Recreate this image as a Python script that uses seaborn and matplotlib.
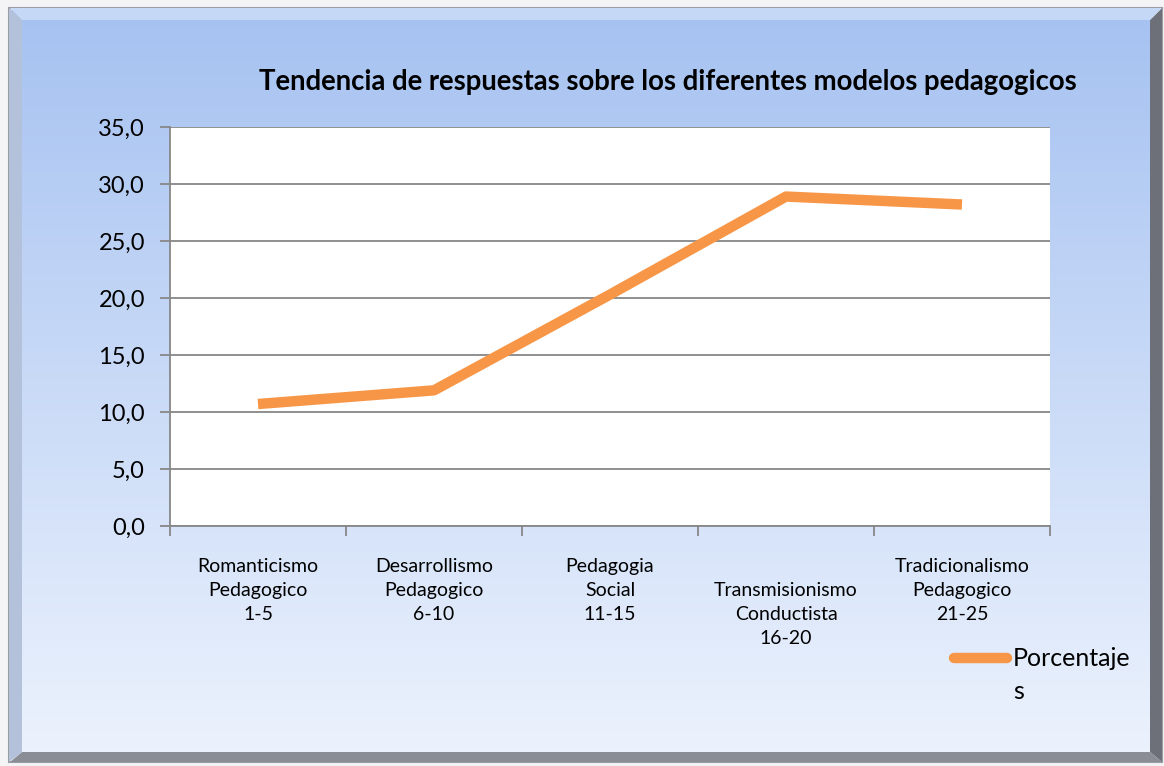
import matplotlib
matplotlib.use('Agg')
import matplotlib.pyplot as plt
import matplotlib.patches as mpatches
import seaborn as sns
import numpy as np
import pandas as pd

# Data
categories = ['Romanticismo\nPedagogico\n1-5',
              'Desarrollismo\nPedagogico\n6-10',
              'Pedagogia\nSocial\n11-15',
              '\nTransmisionismo\nConductista\n16-20',
              'Tradicionalismo\nPedagogico\n21-25']
porcentajes = [10.7, 11.9, 20.3, 28.9, 28.2]
y_ticks = [0, 5, 10, 15, 20, 25, 30, 35]
y_tick_labels = ['0,0', '5,0', '10,0', '15,0', '20,0', '25,0', '30,0', '35,0']

df = pd.DataFrame({'modelo': range(len(categories)), 'valor': porcentajes})

sns.set_theme(style='white')
plt.rcParams['font.family'] = ['Lato', 'DejaVu Sans']
plt.rcParams['text.color'] = 'black'

W, H = 1164, 766
fig = plt.figure(figsize=(W / 100, H / 100), dpi=100)
fig.patch.set_facecolor('#f4f4f6')

# Background gradient for the chart area (frame)
bg = fig.add_axes([0, 0, 1, 1], zorder=-10)
bg.set_xlim(0, W)
bg.set_ylim(H, 0)
bg.axis('off')
top = np.array([0.650, 0.760, 0.945])
bot = np.array([0.925, 0.950, 0.992])
t = np.linspace(0, 1, 256)[:, None, None]
grad = top + (bot - top) * t
grad = np.repeat(grad, 2, axis=1)
bg.imshow(grad, extent=[10, 1152, 752, 10], aspect='auto', zorder=0)

# Bevel frame
bg.add_patch(mpatches.Rectangle((9, 8), 1153, 754, fill=False, ec='#9a9ca4', lw=1.5, zorder=1))
bg.add_patch(mpatches.Polygon([[1150, 20], [1162, 8], [1162, 762], [1150, 752]],
                              closed=True, fc='#6d7079', ec='none', zorder=2))
bg.add_patch(mpatches.Polygon([[22, 752], [1150, 752], [1162, 762], [10, 762]],
                              closed=True, fc='#8a8d95', ec='none', zorder=2))
bg.add_patch(mpatches.Polygon([[10, 8], [1162, 8], [1150, 20], [22, 20]],
                              closed=True, fc='#c5d8f6', ec='none', zorder=2))
bg.add_patch(mpatches.Polygon([[9, 8], [22, 20], [22, 752], [9, 762]],
                              closed=True, fc='#b4c1da', ec='none', zorder=2))

# Plot area
ax = fig.add_axes([170 / W, 1 - 526 / H, 880 / W, 399 / H])
ax.set_facecolor('white')
sns.lineplot(data=df, x='modelo', y='valor', ax=ax, color='#f79646', linewidth=7.5,
             solid_capstyle='butt', solid_joinstyle='round', label='Porcentaje\ns')

ax.set_xlim(-0.5, len(categories) - 0.5)
ax.set_ylim(0, 35)
ax.set_yticks(y_ticks)
ax.set_yticklabels(y_tick_labels, fontsize=17, color='black')
ax.yaxis.grid(True, color='#878787', linewidth=1.3)
ax.set_axisbelow(True)

ax.set_xticks(np.arange(-0.5, len(categories), 1.0))
ax.set_xticklabels([])
ax.set_xticks(range(len(categories)), minor=True)
ax.set_xticklabels(categories, minor=True, fontsize=14, linespacing=1.5, va='top',
                   color='black')
ax.tick_params(axis='x', which='minor', length=0, pad=23)
ax.tick_params(axis='both', which='major', direction='out', length=7, width=1.3,
               color='#878787', bottom=True, left=True)
ax.tick_params(axis='y', pad=11)
ax.set_xlabel('')
ax.set_ylabel('')

for side in ['top', 'right']:
    ax.spines[side].set_visible(False)
for side in ['left', 'bottom']:
    ax.spines[side].set_color('#878787')
    ax.spines[side].set_linewidth(1.3)

leg = ax.legend(loc='upper left', bbox_to_anchor=(944 / W, 1 - 637 / H),
                bbox_transform=fig.transFigure, frameon=False, fontsize=18,
                handlelength=2.1, handletextpad=0.25, borderaxespad=0)
for txt in leg.get_texts():
    txt.set_linespacing(1.55)
# keep the legend line level with the first line of the label
hl = leg.get_lines()[0]
hl.set_ydata(np.asarray(hl.get_ydata()) + 13)
hl.set_solid_capstyle('round')

fig.text(668 / W, 1 - 82 / H, 'Tendencia de respuestas sobre los diferentes modelos pedagogicos',
         ha='center', va='center', fontsize=19.8, fontweight='bold', color='black')

fig.savefig('out.png', dpi=100)
